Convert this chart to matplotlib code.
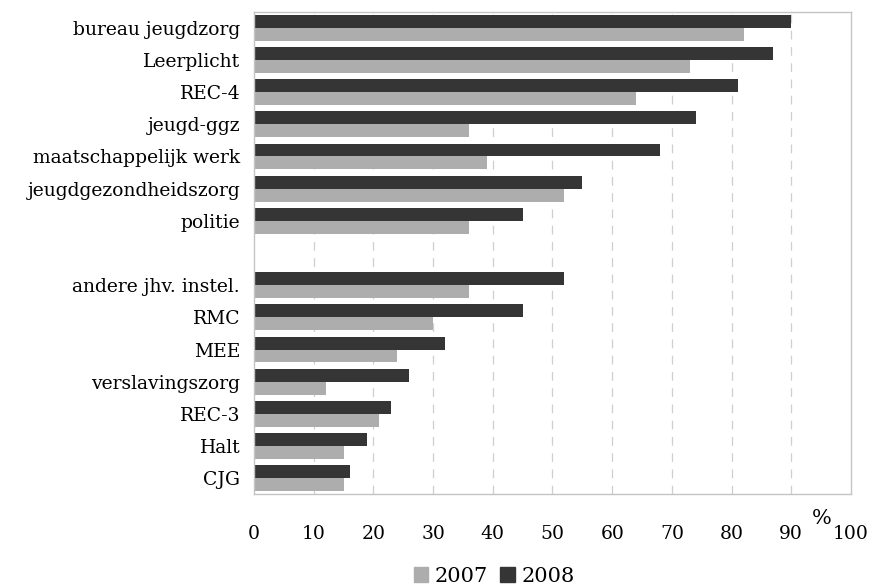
import numpy as np
import matplotlib
matplotlib.use('Agg')
import matplotlib.pyplot as plt
from matplotlib.patches import Patch

plt.rcParams['font.family'] = ['DejaVu Serif']

# categories top to bottom, '' = empty row between the two groups
categories = ['bureau jeugdzorg', 'Leerplicht', 'REC-4', 'jeugd-ggz',
              'maatschappelijk werk', 'jeugdgezondheidszorg', 'politie', '',
              'andere jhv. instel.', 'RMC', 'MEE', 'verslavingszorg',
              'REC-3', 'Halt', 'CJG']
v2007 = [82, 73, 64, 36, 39, 52, 36, np.nan, 36, 30, 24, 12, 21, 15, 15]
v2008 = [90, 87, 81, 74, 68, 55, 45, np.nan, 52, 45, 32, 26, 23, 19, 16]
xticks = list(range(0, 101, 10))

c2007 = '#adadad'
c2008 = '#353535'

fig = plt.figure(figsize=(8.72, 5.85), dpi=100)
ax = fig.add_axes([0.2913, 0.155, 0.6846, 0.825])

y = np.arange(len(categories))
h = 0.4
ax.barh(y + h / 2, v2007, h, color=c2007, label='2007')
ax.barh(y - h / 2, v2008, h, color=c2008, label='2008')

ax.set_xlim(0, 100)
ax.set_ylim(len(categories) - 0.5, -0.5)
ax.set_yticks(y)
ax.set_yticklabels(categories, fontsize=13.5)
ax.set_xticks(xticks)
ax.set_xticklabels([str(t) for t in xticks], fontsize=13.5)
ax.tick_params(axis='y', length=0, pad=10)
ax.tick_params(axis='x', length=0, pad=22)

for t in xticks[1:-1]:
    ax.axvline(t, color='#cfcfcf', lw=0.9, ls=(0, (7, 6)), zorder=0)
for s in ax.spines.values():
    s.set_color('#c4c4c4')
    s.set_linewidth(1.0)

# '%' unit label near the last tick
fig.text(822 / 872, 1 - 518 / 585, '%', fontsize=15, ha='center', va='center')

handles = [Patch(color=c2007, label='2007'), Patch(color=c2008, label='2008')]
fig.legend(handles=handles, loc='center', bbox_to_anchor=(494 / 872, 1 - 576 / 585),
           ncol=2, frameon=False, fontsize=15, handlelength=0.7, handleheight=0.7,
           handletextpad=0.3, columnspacing=0.6, borderpad=0.1)

plt.savefig('out.png', dpi=100)
